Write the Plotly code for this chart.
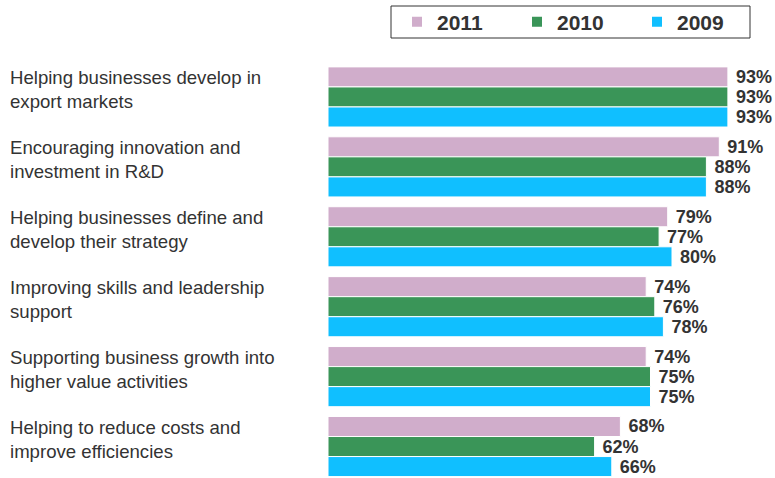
import plotly.graph_objects as go

categories = [
    "Helping businesses develop in<br>export markets",
    "Encouraging innovation and<br>investment in R&D",
    "Helping businesses define and<br>develop their strategy",
    "Improving skills and leadership<br>support",
    "Supporting business growth into<br>higher value activities",
    "Helping to reduce costs and<br>improve efficiencies",
]
years = ["2011", "2010", "2009"]
values = {
    "2011": [93, 91, 79, 74, 74, 68],
    "2010": [93, 88, 77, 76, 75, 62],
    "2009": [93, 88, 80, 78, 75, 66],
}
colors = {"2011": "#d0adcb", "2010": "#3a9558", "2009": "#10bfff"}

W, H = 775, 478
L, R, T, B = 328, 17, 62, 0
plot_w = W - L - R
plot_h = H - T - B
FONT = "Liberation Sans, Arial, Helvetica"

fig = go.Figure()
pos = list(range(len(categories)))
for yr in years:
    fig.add_trace(go.Bar(
        name=yr,
        y=pos,
        x=values[yr],
        orientation="h",
        marker=dict(color=colors[yr], line=dict(color="white", width=1)),
        text=[f" {v}%" for v in values[yr]],
        textposition="outside",
        textfont=dict(family=FONT, size=18, color="#333333"),
        texttemplate="<b>%{text}</b>",
        cliponaxis=False,
        hoverinfo="skip",
    ))

annotations = []
for i, cat in enumerate(categories):
    annotations.append(dict(
        x=-(L - 8) / plot_w, xref="paper", xanchor="left",
        y=i, yref="y", yanchor="middle", yshift=7,
        text=cat, showarrow=False, align="left",
        font=dict(family=FONT, size=18.6, color="#333333"),
    ))

# legend frame
def px_x(p):
    return (p - L) / plot_w

def px_y(p):
    return 1 - (p - T) / plot_h

shapes = [dict(
    type="rect", xref="paper", yref="paper",
    x0=px_x(391), x1=px_x(750), y0=px_y(38), y1=px_y(6),
    line=dict(color="#333333", width=1), fillcolor="rgba(0,0,0,0)",
)]

fig.update_layout(
    width=W, height=H,
    margin=dict(l=L, r=R, t=T, b=B, pad=0),
    paper_bgcolor="white", plot_bgcolor="white",
    barmode="group", bargap=0.14, bargroupgap=0,
    xaxis=dict(range=[0, 100], visible=False, fixedrange=True),
    yaxis=dict(range=[5.45, -0.5], visible=False, fixedrange=True),
    showlegend=True,
    legend=dict(
        orientation="h", x=px_x(397), xanchor="left",
        y=px_y(22), yanchor="middle",
        borderwidth=0, bgcolor="rgba(0,0,0,0)",
        font=dict(family=FONT, size=21, color="#333333", weight="bold"),
        entrywidth=75, traceorder="normal",
        itemsizing="constant",
    ),
    shapes=shapes,
    annotations=annotations,
)

fig.write_html("out.html")
